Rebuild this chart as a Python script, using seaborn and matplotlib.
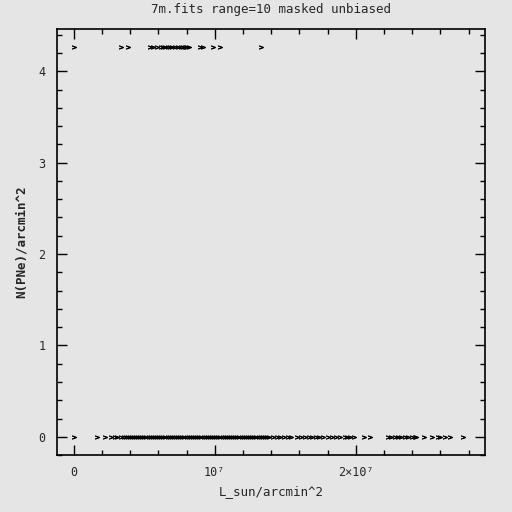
import numpy as np
import pandas as pd
import matplotlib
matplotlib.use('Agg')
import matplotlib.pyplot as plt
import seaborn as sns
from matplotlib.ticker import MultipleLocator, FixedLocator, FixedFormatter

# L_sun/arcmin^2 in units of 1e6
x_high = [0.0, 3.38, 3.85, 5.39, 5.6, 5.89, 6.17, 6.31, 6.45, 6.67, 6.81, 6.95,
          7.16, 7.38, 7.59, 7.73, 7.87, 7.94, 8.01, 8.16, 8.94, 9.15, 9.86,
          10.35, 13.31]
y_high_val = 4.27

x_zero = [0.0, 1.63, 2.2, 2.67, 2.91, 3.05, 3.38, 3.55, 3.69, 3.83, 3.97,
          4.1, 4.25, 4.4, 4.55, 4.7, 4.85, 5.0, 5.15, 5.3, 5.45, 5.6, 5.75,
          5.9, 6.05, 6.2, 6.35, 6.5, 6.65, 6.8, 6.95, 7.1, 7.25, 7.4, 7.55,
          7.7, 7.85, 8.0, 8.15, 8.3, 8.45, 8.6, 8.75, 8.9, 9.05, 9.2, 9.35,
          9.5, 9.65, 9.8, 9.95, 10.1, 10.25, 10.4, 10.55, 10.7, 10.85, 11.0,
          11.15, 11.3, 11.45, 11.6, 11.75, 11.9, 12.05, 12.2, 12.35, 12.5,
          12.65, 12.8, 12.95, 13.1, 13.25, 13.4, 13.55, 13.7, 13.85,
          14.1, 14.4, 14.6, 14.9, 15.2, 15.4, 15.8, 16.1, 16.4, 16.7, 16.9,
          17.2, 17.4, 17.7, 18.0, 18.3, 18.6, 18.9, 19.2, 19.4, 19.6, 19.9,
          20.6, 21.0, 22.3, 22.5, 22.8, 23.0, 23.2, 23.5, 23.7, 24.0, 24.2,
          24.3, 24.8, 25.4, 25.8, 26.0, 26.3, 26.7, 27.6]

x_tick_labels = ['0', '10\u2077', '2\u00d710\u2077']

df = pd.DataFrame({
    'L': np.array(x_high + x_zero) * 1e6,
    'N': [y_high_val] * len(x_high) + [0.0] * len(x_zero),
})

bg = '#e5e5e5'
sns.set_style('ticks', {'axes.facecolor': bg, 'figure.facecolor': bg})
plt.rcParams['font.family'] = ['DejaVu Sans Mono', 'DejaVu Sans']

fig = plt.figure(figsize=(5.12, 5.12), dpi=100)
ax = fig.add_axes([0.111, 0.111, 0.836, 0.832])

sns.scatterplot(data=df, x='L', y='N', ax=ax, marker=r'$>$', s=9,
                color='black', edgecolor='black', linewidth=0.5)

ax.set_xlim(-1.2e6, 2.915e7)
ax.set_ylim(-0.2, 4.46)

ax.xaxis.set_major_locator(FixedLocator([0, 1e7, 2e7]))
ax.xaxis.set_major_formatter(FixedFormatter(x_tick_labels))
ax.xaxis.set_minor_locator(MultipleLocator(2e6))
ax.yaxis.set_major_locator(MultipleLocator(1))
ax.yaxis.set_minor_locator(MultipleLocator(0.2))
ax.yaxis.set_major_formatter(matplotlib.ticker.FormatStrFormatter('%d'))

ax.tick_params(which='both', direction='in', top=True, right=True,
               labelsize=8.5, width=1, color='black')
ax.tick_params(which='major', length=7, pad=8)
ax.tick_params(which='minor', length=3.5)
for s in ax.spines.values():
    s.set_linewidth(1.2)
    s.set_color('black')

ax.set_xlabel('L_sun/arcmin^2', fontsize=9, labelpad=4)
ax.set_ylabel('N(PNe)/arcmin^2', fontsize=9, labelpad=8, fontweight='bold')
ax.set_title('7m.fits range=10 masked unbiased', fontsize=9, pad=12)

fig.savefig('out.png', dpi=100, facecolor=bg)
